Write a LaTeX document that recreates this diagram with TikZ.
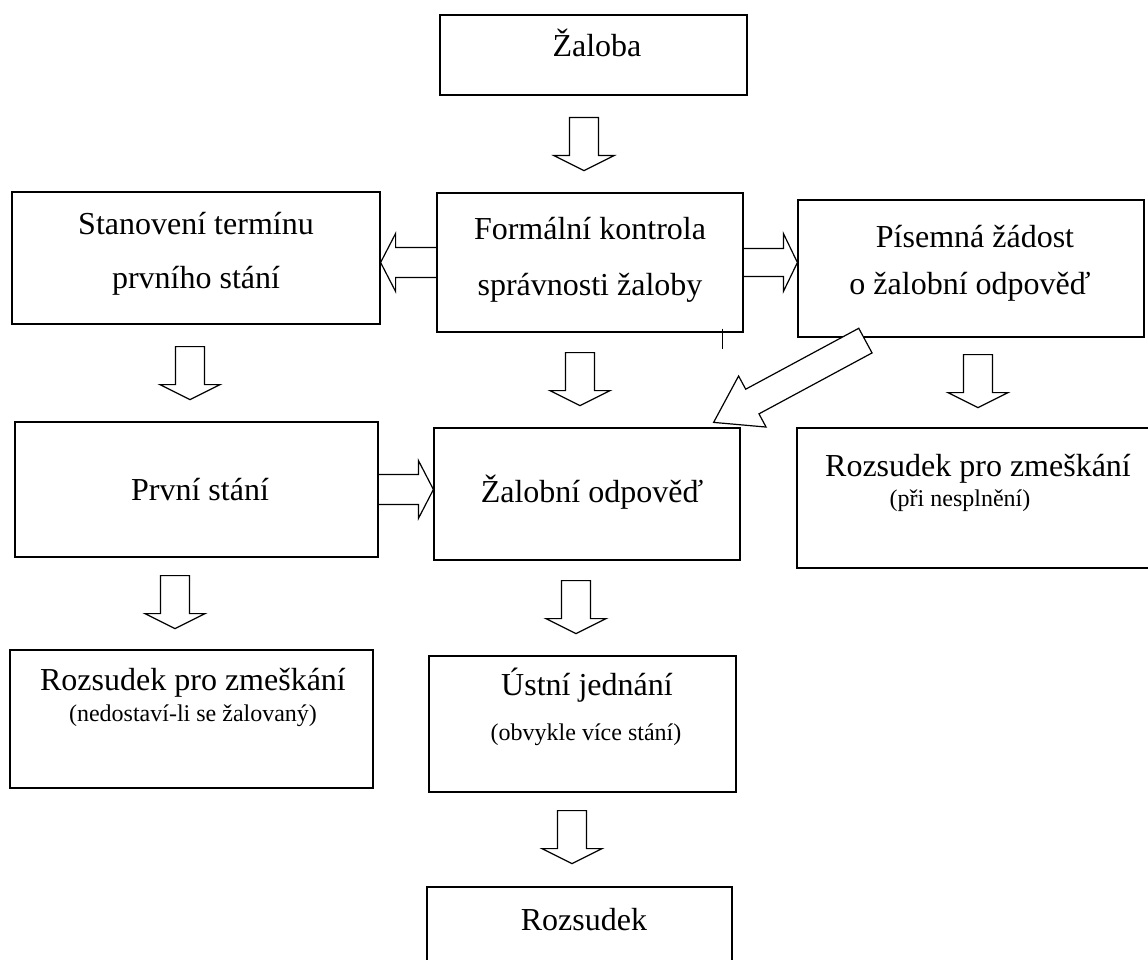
\documentclass[tikz,border=0pt]{standalone}
\usepackage{fontspec}
\setmainfont{Liberation Serif}
\usetikzlibrary{calc}
\tikzset{
  box/.style={draw, line width=1.2pt, inner sep=0pt, fill=white},
  main/.style={font=\fontsize{32}{38}\selectfont, anchor=base, inner sep=0pt},
  sub/.style={font=\fontsize{24}{29}\selectfont, anchor=base, inner sep=0pt},
  arr/.style={line width=1.2pt, line join=miter},
  downarr/.pic={\draw[arr] (-14.5,0) -- (-14.5,38) -- (-30,38) -- (0,53) -- (30,38) -- (14.5,38) -- (14.5,0) -- cycle;}
}
\begin{document}
\begin{tikzpicture}[x=1pt,y=-1pt]
\useasboundingbox (0,0) rectangle (1148,960);
\fill[white] (0,0) rectangle (1148,960);
\clip (0,0) rectangle (1148,960);

% boxes
\node[box, minimum width=307pt, minimum height=80pt]  (zaloba)    at (593.5,55) {};
\node[box, minimum width=368pt, minimum height=132pt] (stanoveni) at (196,258) {};
\node[box, minimum width=306pt, minimum height=139pt] (formalni)  at (590,262.5) {};
\node[box, minimum width=346pt, minimum height=137pt] (pisemna)   at (971,268.5) {};
\node[box, minimum width=363pt, minimum height=135pt] (prvni)     at (196.5,489.5) {};
\node[box, minimum width=306pt, minimum height=132pt] (zodp)      at (587,494) {};
\node[box, minimum width=373pt, minimum height=140pt] (rzr)       at (983.5,498) {};
\node[box, minimum width=363pt, minimum height=138pt] (rzl)       at (191.5,719) {};
\node[box, minimum width=307pt, minimum height=136pt] (ustni)     at (582.5,724) {};
\node[box, minimum width=305pt, minimum height=93pt]  (rozsudek)  at (579.5,933.5) {};

% texts
\node[main] (t1)  at (597,57)  {Žaloba};
\node[main] (t2a) at (196,234) {Stanovení termínu};
\node[main] (t2b) at (196,288) {prvního stání};
\node[main] (t3a) at (590,240) {Formální kontrola};
\node[main] (t3b) at (590,295) {správnosti žaloby};
\node[main] (t4a) at (975,247) {Písemná žádost};
\node[main] (t4b) at (970,294) {o žalobní odpověď};
\node[main] (t5)  at (200,500) {První stání};
\node[main] (t6)  at (592,502) {Žalobní odpověď};
\node[main] (t7a) at (978,476) {Rozsudek pro zmeškání};
\node[sub]  (t7b) at (960,506) {(při nesplnění)};
\node[main] (t8a) at (193,690) {Rozsudek pro zmeškání};
\node[sub]  (t8b) at (193,721) {(nedostaví-li se žalovaný)};
\node[main] (t9a) at (587,695) {Ústní jednání};
\node[sub]  (t9b) at (586,740) {(obvykle více stání)};
\node[main] (t10) at (584,930) {Rozsudek};

% vertical block arrows
\pic at ($(zaloba.south)+(-9.5,22)$) {downarr};
\pic at ($(stanoveni.south)+(-6,22)$) {downarr};
\pic at ($(formalni.south)+(-10,20)$) {downarr};
\pic at ($(pisemna.south)+(7,17)$) {downarr};
\pic at ($(prvni.south)+(-21.5,18)$) {downarr};
\pic at ($(zodp.south)+(-11,20)$) {downarr};
\pic at ($(ustni.south)+(-10.5,18)$) {downarr};

% horizontal block arrows
\coordinate (tipL) at (stanoveni.east |- formalni.west);
\draw[arr] ($(formalni.west)+(0,-15)$) -- ($(tipL)+(15,-15)$) -- ($(tipL)+(15,-29)$) -- (tipL)
  -- ($(tipL)+(15,29)$) -- ($(tipL)+(15,15)$) -- ($(formalni.west)+(0,15)$);
\coordinate (tipR) at (pisemna.west |- formalni.east);
\draw[arr] ($(formalni.east)+(0,-14)$) -- ($(tipR)+(-14,-14)$) -- ($(tipR)+(-14,-29)$) -- (tipR)
  -- ($(tipR)+(-14,29)$) -- ($(tipR)+(-14,14)$) -- ($(formalni.east)+(0,14)$);
\coordinate (tipP) at (zodp.west |- prvni.east);
\draw[arr] ($(prvni.east)+(0,-15)$) -- ($(tipP)+(-15,-15)$) -- ($(tipP)+(-15,-29)$) -- (tipP)
  -- ($(tipP)+(-15,29)$) -- ($(tipP)+(-15,15)$) -- ($(prvni.east)+(0,15)$);

% diagonal block arrow
\coordinate (dT) at ($(zodp.north east)+(-27,-5)$);
\coordinate (dC) at ($(pisemna.south west)+(68,3)$);
\coordinate (dB) at ($(dT)!44pt!(dC)$);
\draw[arr, fill=white] ($(dC)!14pt!-90:(dT)$) -- ($(dB)!14pt!-90:(dT)$) -- ($(dB)!29pt!-90:(dT)$) -- (dT)
  -- ($(dB)!29pt!90:(dT)$) -- ($(dB)!14pt!90:(dT)$) -- ($(dC)!14pt!90:(dT)$) -- cycle;

% small stray tick below Formální box
\coordinate (tk) at ($(formalni.south east)+(-21,-4)$);
\draw[line width=1.2pt] (tk) -- ++(0,20);
\end{tikzpicture}
\end{document}
